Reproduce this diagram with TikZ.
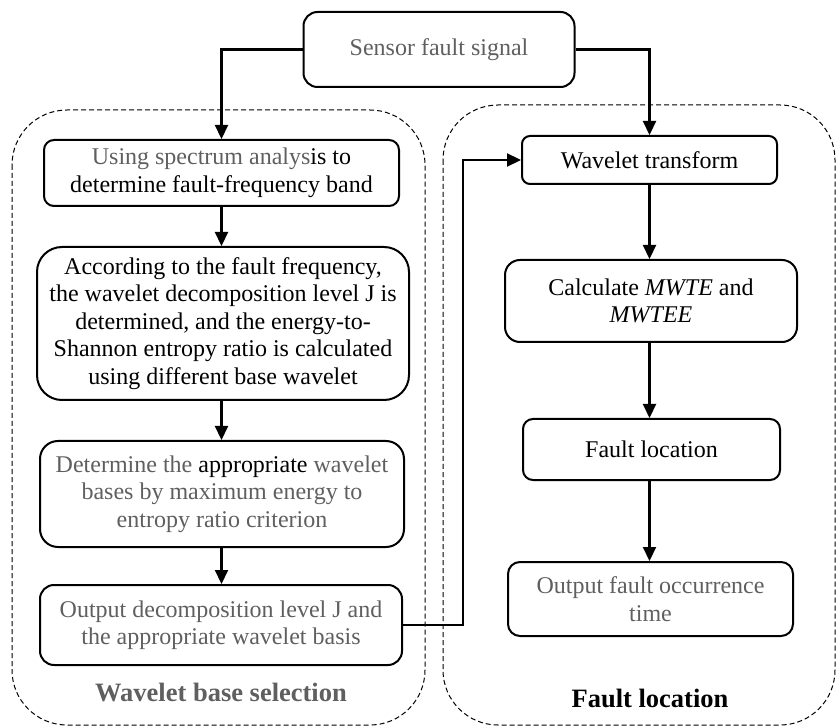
\documentclass[tikz,border=0pt]{standalone}
\usepackage{fontspec}
\setmainfont{Liberation Serif}
\usetikzlibrary{arrows.meta}
\definecolor{gtext}{RGB}{95,95,95}
\tikzset{
  box/.style={draw=black, line width=2pt, align=center, inner sep=0pt,
    font=\fontsize{24}{27.5}\selectfont},
  arr/.style={line width=2.2pt, -{Triangle[width=13pt,length=14pt]}},
  group/.style={draw=black, dashed, dash pattern=on 5pt off 3pt, line width=1pt},
  lbl/.style={font=\fontsize{26.5}{30}\selectfont\bfseries, inner sep=0pt}
}
\begin{document}
\begin{tikzpicture}[x=1pt,y=-1pt]
\useasboundingbox (0,0) rectangle (836,727);
% groups
\draw[group, rounded corners=55pt] (12,110) rectangle (425,725);
\draw[group, rounded corners=55pt] (443,105) rectangle (835,725);
% nodes
\node[box, rounded corners=14pt, minimum width=271pt, minimum height=75pt, text=gtext] (sensor) at (439,49.5) {Sensor fault signal};
\node[box, rounded corners=10pt, minimum width=355pt, minimum height=66pt] (b1) at (221.5,173) {\textcolor{gtext}{Using spectrum analys}is to\\determine fault-frequency band};
\node[box, rounded corners=25pt, minimum width=372pt, minimum height=153pt] (b2) at (223,323.5) {According to the fault frequency,\\the wavelet decomposition level J is\\determined, and the energy-to-\\Shannon entropy ratio is calculated\\using different base wavelet};
\node[box, rounded corners=18pt, minimum width=364pt, minimum height=106pt, text=gtext] (b3) at (222,494) {Determine the \textcolor{black}{appropriate} wavelet\\bases by maximum energy to\\entropy ratio criterion};
\node[box, rounded corners=14pt, minimum width=362pt, minimum height=80pt, text=gtext] (b4) at (221,625) {Output decomposition level J and\\the appropriate wavelet basis};
\node[box, rounded corners=8pt, minimum width=255pt, minimum height=48pt] (wt) at (649.5,160) {Wavelet transform};
\node[box, rounded corners=15pt, minimum width=292pt, minimum height=82pt] (calc) at (651,301) {Calculate \textit{MWTE} and\\\textit{MWTEE}};
\node[box, rounded corners=10pt, minimum width=257pt, minimum height=61pt] (fl) at (651.5,449.5) {Fault location};
\node[box, rounded corners=12pt, minimum width=285pt, minimum height=74pt, text=gtext] (out) at (650.5,599) {Output fault occurrence\\time};
\node[lbl, text=gtext] (lw) at (221,693) {Wavelet base selection};
\node[lbl] (lf) at (650,698) {Fault location};
\coordinate (k) at (463,160);
% connectors
\draw[arr] (sensor.west) -| (b1.north);
\draw[arr] (sensor.east) -| (wt.north);
\draw[arr] (b1.south) -- (b1.south |- b2.north);
\draw[arr] (b1.south |- b2.south) -- (b1.south |- b3.north);
\draw[arr] (b1.south |- b3.south) -- (b1.south |- b4.north);
\draw[arr] (b4.east) -| (k) -- (wt.west);
\draw[arr] (wt.south) -- (wt.south |- calc.north);
\draw[arr] (wt.south |- calc.south) -- (wt.south |- fl.north);
\draw[arr] (wt.south |- fl.south) -- (wt.south |- out.north);
\end{tikzpicture}
\end{document}
